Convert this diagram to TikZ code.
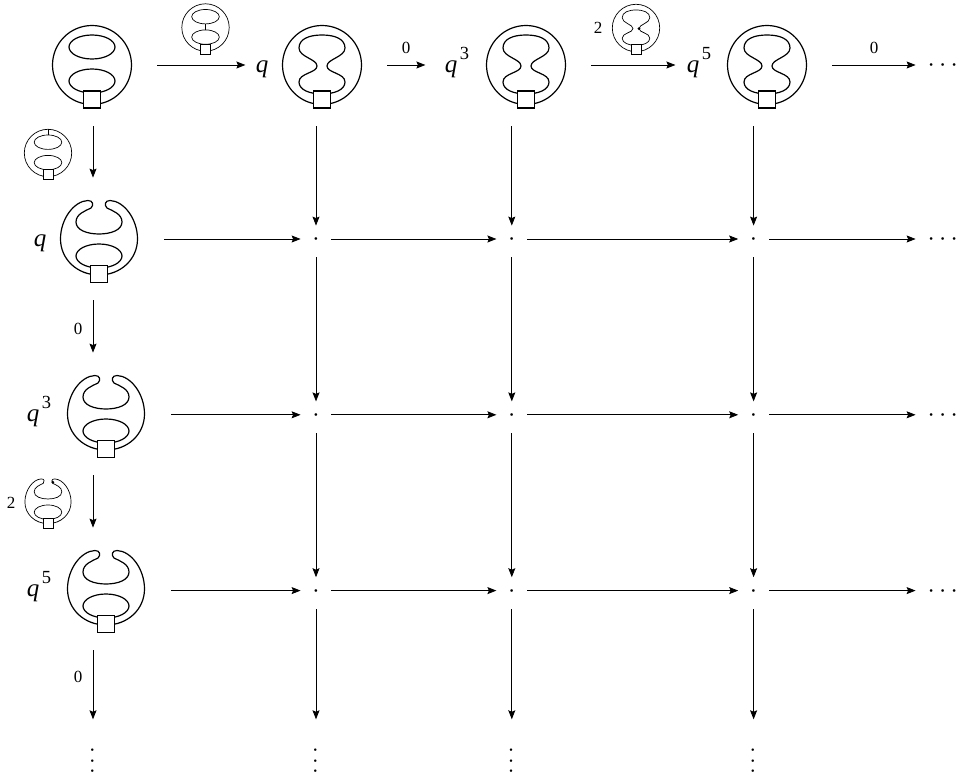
\documentclass[tikz,border=0pt]{standalone}
\usepackage{amsmath,amssymb}
\usepackage{fontspec}
\setmainfont{Liberation Serif}
\usepackage{tikz}
\usetikzlibrary{positioning,arrows.meta}

\newcommand{\qpow}[1]{\textit{q}\kern2.5pt\smash{\raisebox{13pt}{\fontsize{18.5}{19}\selectfont #1}}}
\newcommand{\griddot}{\smash{\raisebox{-6.5pt}{\scalebox{2.6}{$\cdot$}}}}
\newcommand{\rowdots}{\smash{\raisebox{-6.5pt}{\scalebox{2.6}{$\cdots$}}}}
\newcommand{\coldots}{\rotatebox{90}{\scalebox{2.4}{$\cdots$}}}

\tikzset{
  pics/closedloops/.style={code={
    \draw (0,0) circle (39.5);
    \draw (0,-18) ellipse (23 and 12);
    \draw (0,16) ellipse (23 and 12);
  }},
  pics/hourglass/.style={code={
    \draw (0,0) circle (39.5);
    \draw (0,-30) .. controls (13,-30) and (23,-26) .. (23,-17)
      .. controls (23,-8) and (5,-6) .. (5,1)
      .. controls (5,8) and (23,8) .. (23,17)
      .. controls (23,25) and (12,29) .. (0,29)
      .. controls (-12,29) and (-23,25) .. (-23,17)
      .. controls (-23,8) and (-5,8) .. (-5,1)
      .. controls (-5,-6) and (-23,-8) .. (-23,-17)
      .. controls (-23,-26) and (-13,-30) .. (0,-30) -- cycle;
  }},
  pics/openloop/.style={code={
    \draw (0,36) .. controls (-22,36) and (-38.5,20) .. (-38.5,0)
      .. controls (-38.5,-20) and (-25,-38) .. (-11,-38.5)
      .. controls (-6,-38.5) and (-5,-34) .. (-8,-31)
      .. controls (-14,-28) and (-23,-25) .. (-23,-17)
      .. controls (-23,-9) and (-12,-5) .. (0,-5)
      .. controls (12,-5) and (23,-9) .. (23,-17)
      .. controls (23,-25) and (14,-28) .. (8,-31)
      .. controls (5,-34) and (6,-38.5) .. (11,-38.5)
      .. controls (25,-38) and (38.5,-20) .. (38.5,0)
      .. controls (38.5,20) and (22,36) .. (0,36) -- cycle;
    \draw (0,17) ellipse (23 and 12);
  }},
  pics/sqbox/.style={code={
    \draw[fill=white] (-8.5,-8.5) rectangle (8.5,8.5);
  }},
  pics/midbar/.style={code={\draw[line width=1pt] (0,-6) -- (0,4);}},
  pics/topbar/.style={code={\draw[line width=1pt] (0,-39.5) -- (0,-30);}},
  pics/neckdot/.style={code={\fill (5,1) circle (2.6);}},
  pics/capdot/.style={code={\fill (8,-33) circle (2.6);}}
}

\begin{document}
\begin{tikzpicture}[
  x=1pt,y=-1pt,
  line width=.8pt,
  >={Stealth[length=9pt,width=7pt,inset=1.5pt]},
  gl/.style={minimum width=130pt,minimum height=122pt,inner sep=0pt},
  qlab/.style={inner sep=0pt,font=\fontsize{25}{26}\selectfont},
  lab/.style={inner sep=0pt,font=\fontsize{17}{18}\selectfont},
  dotn/.style={minimum width=30pt,minimum height=26pt,inner sep=0pt},
  hd/.style={inner sep=0pt,minimum width=58pt},
  vd/.style={inner sep=0pt,minimum height=78pt},
  big/.style={line width=1.2pt},
  small/.style={line width=.7pt,scale=.6},
  node distance=20pt
]
\useasboundingbox (0,0) rectangle (961,775);

% top row
\node[gl] (g11) at (92,65) {};
\node[gl] (g12) at (322,65) {};
\node[gl] (g13) at (526,65) {};
\node[gl] (g14) at (767,65) {};
\pic[big] at (g11) {closedloops};
\pic[big] at (g12) {hourglass};
\pic[big] at (g13) {hourglass};
\pic[big] at (g14) {hourglass};
\pic[big] at (92,99.5) {sqbox};
\pic[big] at (322,99.5) {sqbox};
\pic[big] at (526,99.5) {sqbox};
\pic[big] at (767,99.5) {sqbox};
\node[qlab] (q12) at (262,69) {\textit{q}};
\node[qlab] (q13) at (457,69) {\qpow{3}};
\node[qlab] (q14) at (699,69) {\qpow{5}};

% left column
\node[gl] (g21) at (99,239) {};
\node[gl] (g31) at (106,414) {};
\node[gl] (g41) at (106,589) {};
\pic[big] at (g21) {openloop};
\pic[big] at (g31) {openloop};
\pic[big] at (g41) {openloop};
\pic[big] at (99,274) {sqbox};
\pic[big] at (106,449) {sqbox};
\pic[big] at (106,624) {sqbox};
\node[qlab] (q21) at (40,243) {\textit{q}};
\node[qlab] (q31) at (39,418) {\qpow{3}};
\node[qlab] (q41) at (39,593) {\qpow{5}};

% grid of dots
\node[dotn] (d22) at (316,239) {\griddot};
\node[dotn,right=165pt of d22] (d23) {\griddot};
\node[dotn,right=211pt of d23] (d24) {\griddot};
\node[dotn,below=149pt of d22] (d32) {\griddot};
\node[dotn,right=165pt of d32] (d33) {\griddot};
\node[dotn,right=211pt of d33] (d34) {\griddot};
\node[dotn,below=149pt of d32] (d42) {\griddot};
\node[dotn,right=165pt of d42] (d43) {\griddot};
\node[dotn,right=211pt of d43] (d44) {\griddot};

% ellipses
\node[hd] (e1) at (945,65) {\rowdots};
\node[hd] (e2) at (e1 |- d24) {\rowdots};
\node[hd] (e3) at (e1 |- d34) {\rowdots};
\node[hd] (e4) at (e1 |- d44) {\rowdots};
\coordinate (c1) at (93,0);
\node[vd] (v1) at (93,758.7) {\coldots};
\node[vd] (v2) at (d42 |- v1) {\coldots};
\node[vd] (v3) at (d43 |- v1) {\coldots};
\node[vd] (v4) at (d44 |- v1) {\coldots};

% small pictures on the maps
\pic[small] at (205.5,27.5) {closedloops};
\pic[small] at (205.5,27.5) {midbar};
\pic[small] at (205.5,49) {sqbox};
\pic[small] at (48,153) {closedloops};
\pic[small] at (48,153) {topbar};
\pic[small] at (48,174) {sqbox};
\pic[small] at (636,28) {hourglass};
\pic[small] at (636,28) {neckdot};
\pic[small] at (636,49) {sqbox};
\pic[small] at (48,502) {openloop};
\pic[small] at (48,502) {capdot};
\pic[small] at (48,523) {sqbox};
\node[lab] (l1) at (598,28) {2};
\node[lab] (l2) at (11,503) {2};
\node[lab] (l3) at (406,48) {0};
\node[lab] (l4) at (874,48) {0};
\node[lab] (l5) at (78,329) {0};
\node[lab] (l6) at (78,677) {0};

% arrows, top row
\draw[->] (g11.east) -- ++(88,0);
\draw[->] (g12.east) -- ++(38,0);
\draw[->] (g13.east) -- ++(84,0);
\draw[->] (g14.east) -- (e1);

% arrows, rows
\draw[->] (g21.east |- d22) -- (d22);
\draw[->] (d22) -- (d23);
\draw[->] (d23) -- (d24);
\draw[->] (d24) -- (e2);
\draw[->] (g31.east |- d32) -- (d32);
\draw[->] (d32) -- (d33);
\draw[->] (d33) -- (d34);
\draw[->] (d34) -- (e3);
\draw[->] (g41.east |- d42) -- (d42);
\draw[->] (d42) -- (d43);
\draw[->] (d43) -- (d44);
\draw[->] (d44) -- (e4);

% arrows, columns
\draw[->] (c1 |- g11.south) -- (c1 |- g21.north);
\draw[->] (c1 |- g21.south) -- (c1 |- g31.north);
\draw[->] (c1 |- g31.south) -- (c1 |- g41.north);
\draw[->] (c1 |- g41.south) -- (v1);
\draw[->] (d22 |- g12.south) -- (d22);
\draw[->,shorten <=5pt] (d22) -- (d32);
\draw[->,shorten <=5pt] (d32) -- (d42);
\draw[->,shorten <=5pt] (d42) -- (v2);
\draw[->] (d23 |- g13.south) -- (d23);
\draw[->,shorten <=5pt] (d23) -- (d33);
\draw[->,shorten <=5pt] (d33) -- (d43);
\draw[->,shorten <=5pt] (d43) -- (v3);
\draw[->] (d24 |- g14.south) -- (d24);
\draw[->,shorten <=5pt] (d24) -- (d34);
\draw[->,shorten <=5pt] (d34) -- (d44);
\draw[->,shorten <=5pt] (d44) -- (v4);
\end{tikzpicture}
\end{document}
